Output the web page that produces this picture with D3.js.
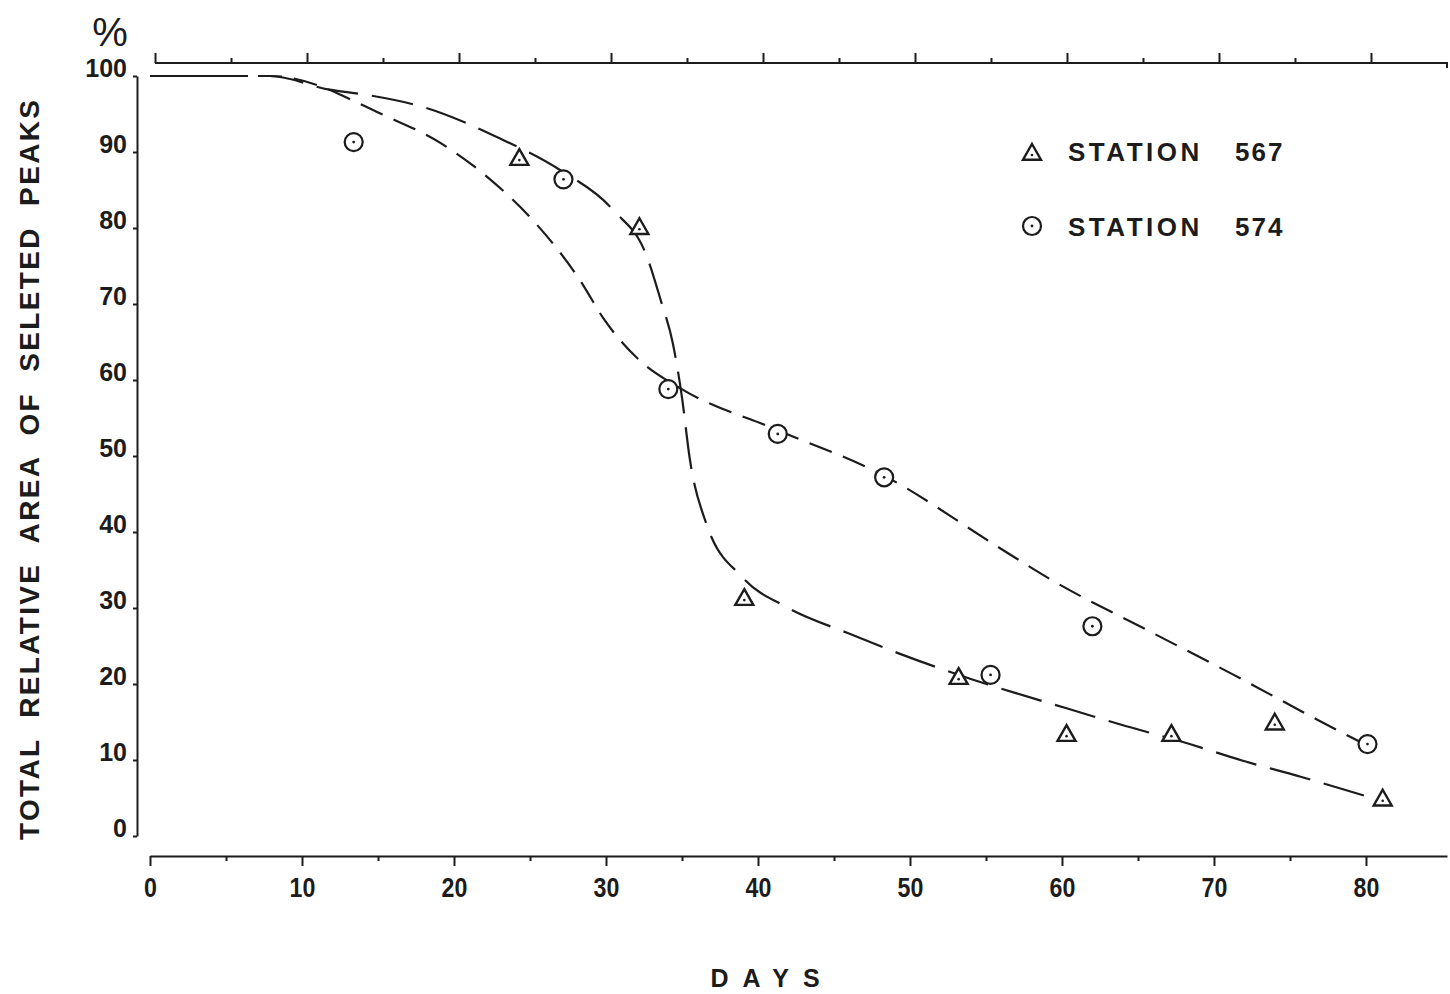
<!DOCTYPE html>
<html>
<head>
<meta charset="utf-8">
<script src="https://cdn.jsdelivr.net/npm/d3@7"></script>
<style>
  html, body { margin: 0; padding: 0; background: #ffffff; }
  svg { display: block; }
</style>
</head>
<body>
<svg id="chart" width="1450" height="994"></svg>
<script>
// ---- data ----
const days567   = [24.3, 32.2, 39.1, 53.2, 60.3, 67.2, 74.0, 81.1];
const values567 = [89.2, 80.1, 31.3, 20.9, 13.4, 13.4, 14.9, 4.9];
const days574   = [13.4, 27.2, 34.1, 41.3, 48.3, 55.3, 62.0, 80.1];
const values574 = [91.3, 86.4, 58.8, 52.9, 47.2, 21.2, 27.6, 12.1];

// hand-drawn fitted curves
const curve567Days   = [0, 7.9, 11.8, 14.3, 18.0, 23.0, 27.0, 30.5, 32.7, 33.6, 34.4, 35.0, 35.5, 36.6, 39.0, 41.9, 45.9, 49.3, 54.1, 60.3, 63.8, 68.4, 71.9, 75.7, 79.9];
const curve567Values = [100, 100, 98.2, 97.5, 95.9, 91.8, 87.6, 82.3, 76.2, 70.5, 64.8, 57.7, 49.8, 41.1, 34.0, 30.1, 26.7, 24.0, 20.6, 16.8, 14.7, 12.1, 9.9, 7.8, 5.3];
const curve574Days   = [0, 7.9, 11.8, 13.0, 14.9, 19.1, 22.2, 25.2, 28.3, 29.9, 32.2, 34.9, 41.3, 48.3, 55.9, 59.3, 65.6, 71.3, 76.8, 79.6];
const curve574Values = [100, 100, 98.2, 97.1, 95.3, 91.2, 86.7, 81.0, 73.1, 67.9, 62.6, 58.9, 53.4, 47.4, 37.9, 33.7, 27.1, 21.2, 15.3, 12.4];

const xTicks = [0, 10, 20, 30, 40, 50, 60, 70, 80];
const xMinorTicks = [5, 15, 25, 35, 45, 55, 65, 75];
const yTicks = [0, 10, 20, 30, 40, 50, 60, 70, 80, 90, 100];
const legendLabels = ["STATION", "STATION"];
const legendNumbers = ["567", "574"];

// ---- drawing ----
const ink = "#1c1c1c";
const svg = d3.select("#chart");
svg.append("rect").attr("width", 1450).attr("height", 994).attr("fill", "#ffffff");

const x = d3.scaleLinear().domain([0, 85.33]).range([150, 1447]);
const y = d3.scaleLinear().domain([0, 100]).range([836, 76]);

const font = "'Liberation Sans', Arial, sans-serif";

// bottom axis
const gx = svg.append("g").attr("transform", "translate(0,856)");
gx.call(d3.axisBottom(x).tickValues(xTicks).tickSize(10).tickSizeOuter(0).tickPadding(12).tickFormat(d3.format("d")));
gx.append("g").call(d3.axisBottom(x).tickValues(xMinorTicks).tickSize(5).tickSizeOuter(0).tickFormat(""))
  .select(".domain").remove();
gx.selectAll(".domain").attr("stroke", ink).attr("stroke-width", 2);
gx.selectAll(".tick line").attr("stroke", ink).attr("stroke-width", 2);
gx.selectAll(".tick text").attr("fill", ink).attr("font-family", font)
  .attr("font-weight", "bold").attr("font-size", 27).attr("transform", "scale(0.86,1)");

// top axis
const gt = svg.append("g").attr("transform", "translate(5,63)");
gt.call(d3.axisTop(x).tickValues(xTicks).tickSize(10).tickSizeOuter(0).tickFormat(""));
gt.append("g").call(d3.axisTop(x).tickValues(xMinorTicks).tickSize(5).tickSizeOuter(0).tickFormat(""))
  .select(".domain").remove();
gt.selectAll(".domain").attr("stroke", ink).attr("stroke-width", 2)
  .attr("d", `M${x(0)},0H${x.range()[1] - 5}v5`);
gt.selectAll(".tick line").attr("stroke", ink).attr("stroke-width", 2);

// left axis
const gy = svg.append("g").attr("transform", "translate(137,0)");
gy.call(d3.axisLeft(y).tickValues(yTicks).tickSize(4).tickSizeOuter(0).tickPadding(6).tickFormat(d3.format("d")));
gy.selectAll(".domain").attr("stroke", ink).attr("stroke-width", 2);
gy.selectAll(".tick line").attr("stroke", ink).attr("stroke-width", 2);
gy.selectAll(".tick text").attr("fill", ink).attr("font-family", font)
  .attr("font-weight", "bold").attr("font-size", 25).attr("dy", "0");

// percent sign
svg.append("text").attr("x", 110).attr("y", 46).attr("text-anchor", "middle")
  .attr("font-family", font).attr("font-size", 40).attr("fill", ink).text("%");

// axis titles
svg.append("text")
  .attr("transform", "translate(39,470) rotate(-90)")
  .attr("text-anchor", "middle")
  .attr("font-family", font).attr("font-weight", "bold").attr("font-size", 28)
  .attr("fill", ink)
  .attr("textLength", 740).attr("lengthAdjust", "spacing")
  .attr("xml:space", "preserve")
  .text("TOTAL  RELATIVE  AREA  OF  SELETED  PEAKS");

svg.append("text")
  .attr("x", 772).attr("y", 987).attr("text-anchor", "middle")
  .attr("font-family", font).attr("font-weight", "bold").attr("font-size", 25)
  .attr("letter-spacing", 14).attr("fill", ink).text("DAYS");

// curves
const line = d3.line().x(d => x(d[0])).y(d => y(d[1])).curve(d3.curveMonotoneX);
const c567 = curve567Days.map((d, i) => [d, curve567Values[i]]);
const c574 = curve574Days.map((d, i) => [d, curve574Values[i]]);
svg.append("path").attr("d", line(c567)).attr("fill", "none").attr("stroke", ink)
  .attr("stroke-width", 2.2).attr("stroke-dasharray", "42,14");
svg.append("path").attr("d", line(c574)).attr("fill", "none").attr("stroke", ink)
  .attr("stroke-width", 2.2).attr("stroke-dasharray", "24,12");

// markers
function triangle(g, cx, cy) {
  const s = 9;
  g.append("path").attr("d", `M${cx},${cy - s}L${cx + s},${cy + s * 0.75}L${cx - s},${cy + s * 0.75}Z`)
    .attr("fill", "#fff").attr("stroke", ink).attr("stroke-width", 2.4).attr("stroke-linejoin", "miter");
  g.append("circle").attr("cx", cx).attr("cy", cy + 2).attr("r", 1.3).attr("fill", ink);
}
function ring(g, cx, cy) {
  g.append("circle").attr("cx", cx).attr("cy", cy).attr("r", 9)
    .attr("fill", "#fff").attr("stroke", ink).attr("stroke-width", 2.2);
  g.append("circle").attr("cx", cx).attr("cy", cy).attr("r", 1.4).attr("fill", ink);
}
const gm = svg.append("g");
days567.forEach((d, i) => triangle(gm, x(d), y(values567[i])));
days574.forEach((d, i) => ring(gm, x(d), y(values574[i])));

// legend
const lg = svg.append("g");
triangle(lg, 1032, 153);
ring(lg, 1032, 226);
[161, 236].forEach((yy, i) => {
  lg.append("text").attr("x", 1068).attr("y", yy)
    .attr("font-family", font).attr("font-weight", "bold").attr("font-size", 26)
    .attr("letter-spacing", 3.5).attr("fill", ink).text(legendLabels[i]);
  lg.append("text").attr("x", 1235).attr("y", yy)
    .attr("font-family", font).attr("font-weight", "bold").attr("font-size", 26)
    .attr("letter-spacing", 2).attr("fill", ink).text(legendNumbers[i]);
});
</script>
</body>
</html>
